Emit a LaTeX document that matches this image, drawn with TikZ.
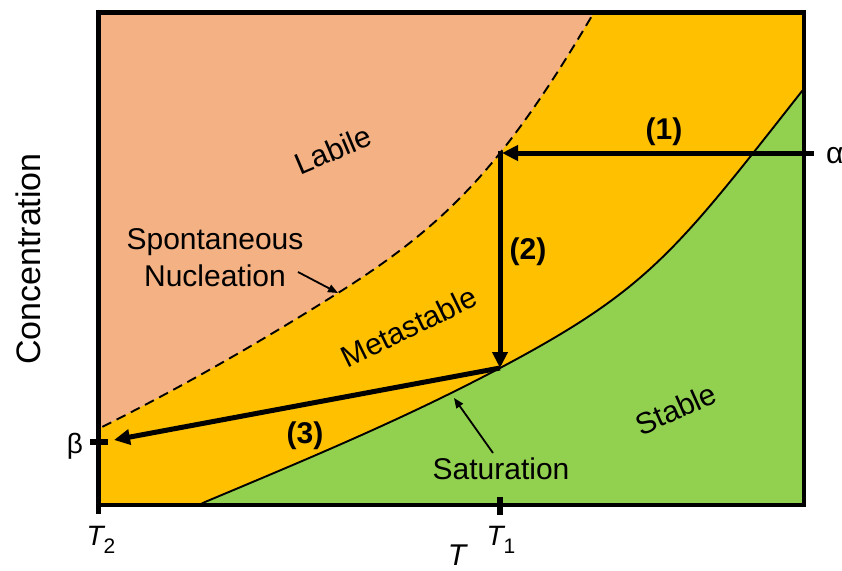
\documentclass[tikz,border=0pt]{standalone}
\usepackage{fontspec}
\setmainfont{Liberation Sans}
\usetikzlibrary{arrows.meta}
\definecolor{labilecol}{HTML}{F4B183}
\definecolor{metacol}{HTML}{FFC000}
\definecolor{stablecol}{HTML}{92D050}
\begin{document}
\begin{tikzpicture}[x=1pt,y=-1pt,
  lbl/.style={font=\fontsize{30}{36}\selectfont, inner sep=0pt},
  num/.style={font=\fontsize{30}{36}\selectfont\bfseries, inner sep=0pt},
  bigarrow/.style={line width=5pt, -{Triangle[length=16pt,width=15pt]}},
  smallarrow/.style={line width=1.8pt, -{Triangle[length=10pt,width=8pt]}},
  curveline/.style={line width=1.9pt},
  tickline/.style={line width=5.5pt},
  frameline/.style={line width=4.5pt},
]
\useasboundingbox (0,0) rectangle (842,570);
% regions
\begin{scope}
\clip (98.5,12.5) rectangle (804,505);
\fill[labilecol] (98.5,12.5) rectangle (804,505);
\fill[metacol] (88,434) -- (100,428) .. controls (180,388) and (258,343.4) .. (338,293)
  .. controls (448,223.7) and (505,163.6) .. (593,14) -- (600,2) -- (820,0) -- (820,520) -- (88,520) -- cycle;
\fill[stablecol] (195,507) -- (205,502) .. controls (303,460.8) and (402,420) .. (500,368)
  .. controls (650,288.5) and (676,251.1) .. (806,86) -- (812,78) -- (820,520) -- cycle;
\draw[curveline, dash pattern=on 10pt off 6pt] (88,434) -- (100,428) .. controls (180,388) and (258,343.4) .. (338,293)
  .. controls (448,223.7) and (505,163.6) .. (593,14) -- (600,2);
\draw[curveline] (195,507) -- (205,502) .. controls (303,460.8) and (402,420) .. (500,368)
  .. controls (650,288.5) and (676,251.1) .. (806,86) -- (812,78);
\end{scope}
% ticks
\coordinate (t1top) at (500,497);
\coordinate (t1bot) at (500,515);
\coordinate (t2top) at (98.5,503);
\coordinate (t2bot) at (98.5,514);
\coordinate (btl) at (90,442);
\coordinate (btr) at (108,442);
\draw[tickline] (t1top) -- (t1bot);
\draw[frameline] (t2top) -- (t2bot);
\draw[tickline] (btl) -- (btr);
% frame
\draw[frameline] (98.5,12.5) rectangle (804,505);
% process arrows
\coordinate (astart) at (814,153);
\coordinate (A) at (502,153);
\coordinate (Atop) at (500,150.5);
\coordinate (B) at (500,368);
\coordinate (betaend) at (114,440);
\draw[bigarrow] (astart) -- (A);
\draw[bigarrow] (Atop) -- (B);
\draw[bigarrow] (B) -- (betaend);
% labels
\node[num, anchor=base] (n1) at (664,139) {(1)};
\node[num, anchor=base] (n2) at (528,259) {(2)};
\node[num, anchor=base] (n3) at (305,443.5) {(3)};
\node[lbl, rotate=23] (labile) at (333,150) {Labile};
\node[lbl, rotate=26] (meta) at (409,327) {Metastable};
\node[lbl, rotate=24] (stable) at (676,409) {Stable};
\node[lbl, anchor=base] (spont) at (215,249) {Spontaneous};
\node[lbl, anchor=base] (nucl) at (215,286) {Nucleation};
\node[lbl, anchor=base] (sat) at (501,479) {Saturation};
\coordinate (nucA) at (298,272);
\coordinate (nucB) at (338,293);
\draw[smallarrow] (nucA) -- (nucB);
\coordinate (satA) at (493,453);
\coordinate (satB) at (454,398);
\draw[smallarrow] (satA) -- (satB);
\node[lbl, anchor=base west] (alpha) at (826,163) {α};
\node[lbl, font=\fontsize{28}{34}\selectfont] (beta) at (75,446) {β};
\node[lbl, font=\fontsize{34}{40}\selectfont, rotate=90] (conc) at (28,259) {Concentration};
\node[lbl, anchor=base, font=\fontsize{28}{34}\selectfont] (T2) at (101,545) {\itshape T\upshape\raisebox{-8pt}{\fontsize{21}{25}\selectfont 2}};
\node[lbl, anchor=base, font=\fontsize{28}{34}\selectfont] (T1) at (501,545) {\itshape T\upshape\raisebox{-8pt}{\fontsize{21}{25}\selectfont 1}};
\node[lbl, anchor=base, font=\fontsize{30}{36}\selectfont\itshape] (T) at (457,565) {T};
\end{tikzpicture}
\end{document}
